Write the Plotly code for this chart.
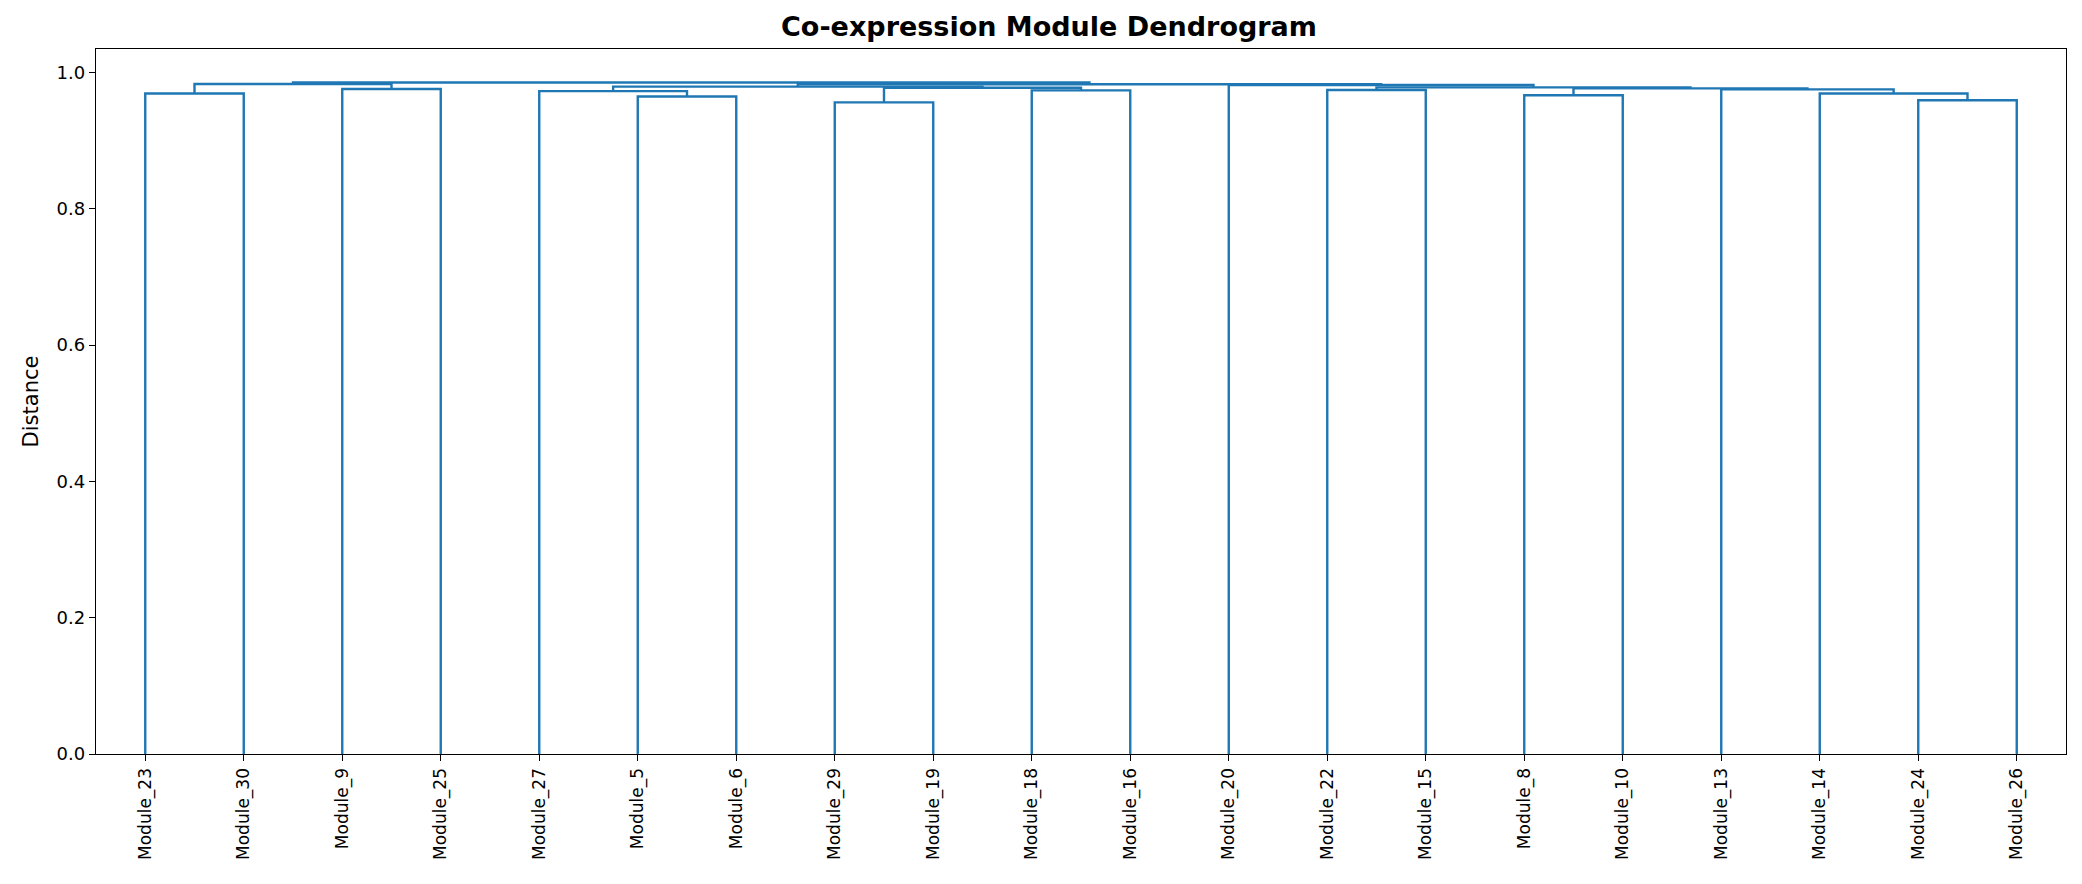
import plotly.graph_objects as go

# merges in the order they were formed: left child, right child, distance
# children are module names or earlier merges ("n0", "n1", ...)
merge_left = ["Module_23", "Module_9", "Module_5", "Module_27", "Module_29",
              "Module_18", "n4", "Module_22", "Module_8", "Module_24",
              "Module_14", "Module_13", "n8", "n7", "Module_20",
              "n0", "n3", "n16", "n15"]
merge_right = ["Module_30", "Module_25", "Module_6", "n2", "Module_19",
               "Module_16", "n5", "Module_15", "Module_10", "Module_26",
               "n9", "n10", "n11", "n12", "n13",
               "n1", "n6", "n14", "n17"]
merge_height = [0.969, 0.9755, 0.9645, 0.9725, 0.956,
                0.9735, 0.9775, 0.974, 0.9665, 0.959,
                0.969, 0.975, 0.9765, 0.978, 0.9815,
                0.983, 0.979, 0.9825, 0.985]

y_ticks = [0.0, 0.2, 0.4, 0.6, 0.8, 1.0]

nodes = {f"n{i}": (l, r, h) for i, (l, r, h) in
         enumerate(zip(merge_left, merge_right, merge_height))}
root = f"n{len(merge_height) - 1}"

# leaf order from walking the tree left to right
leaves = []
def walk(name):
    if name in nodes:
        walk(nodes[name][0])
        walk(nodes[name][1])
    else:
        leaves.append(name)
walk(root)

leaf_x = {name: 5 + 10 * i for i, name in enumerate(leaves)}

xs, ys = [], []
def place(name):
    if name not in nodes:
        return leaf_x[name], 0.0
    l, r, h = nodes[name]
    xl, hl = place(l)
    xr, hr = place(r)
    xs.extend([xl, xl, xr, xr, None])
    ys.extend([hl, h, h, hr, None])
    return (xl + xr) / 2, h
place(root)

fig = go.Figure()
fig.add_trace(go.Scatter(x=xs, y=ys, mode="lines",
                         line=dict(color="#1f77b4", width=2.4),
                         hoverinfo="skip", showlegend=False))

top = max(merge_height) * 1.05
fig.update_layout(
    width=2082, height=884,
    paper_bgcolor="white", plot_bgcolor="white",
    margin=dict(l=88, r=24, t=41, b=138),
    font=dict(family="DejaVu Sans", color="black"),
    title=dict(text="<b>Co-expression Module Dendrogram</b>",
               x=0.5, xanchor="center", y=0.979, yanchor="middle",
               font=dict(size=27, family="DejaVu Sans")),
    xaxis=dict(range=[0, 10 * len(leaves)], tickvals=list(leaf_x.values()),
               ticktext=list(leaf_x.keys()), tickangle=-90,
               tickfont=dict(size=17), showgrid=False, zeroline=False,
               showline=True, mirror=True, linecolor="black", linewidth=1.4,
               ticks="outside", ticklen=6, tickcolor="black"),
    yaxis=dict(range=[0, top], tickvals=y_ticks,
               ticktext=[f"{v:.1f}" for v in y_ticks],
               tickfont=dict(size=18), showgrid=False, zeroline=False,
               showline=True, mirror=True, linecolor="black", linewidth=1.4,
               ticks="outside", ticklen=6, tickcolor="black",
               title=dict(text="Distance", font=dict(size=21), standoff=12)),
)

fig.write_html("out.html")
